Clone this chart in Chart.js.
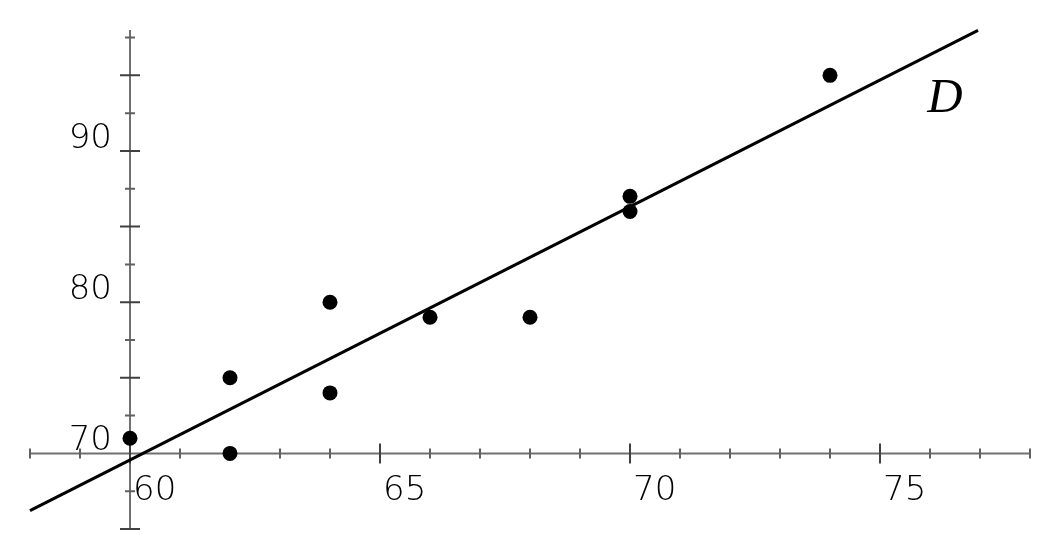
<!DOCTYPE html>
<html>
<head>
<meta charset="utf-8">
<script src="https://cdn.jsdelivr.net/npm/chart.js@4.4.1/dist/chart.umd.min.js"></script>
<style>
  html, body { margin: 0; padding: 0; background: #fff; }
  #wrap { width: 1060px; height: 560px; }
</style>
</head>
<body>
<div id="wrap"><canvas id="c" width="1060" height="560"></canvas></div>
<script>
// ---- data ----
const pointsX = [60, 62, 62, 64, 64, 66, 68, 70, 70, 74];
const pointsY = [71, 75, 70, 80, 74, 79, 79, 87, 86, 95];
const lineX = [58, 76.96];
const lineY = [66.22, 97.97];
const lineName = 'D';
const xLabelTicks = [60, 65, 70, 75];
const xMajorTicks = [60, 65, 70, 75];
const xMinorTicks = [58, 59, 61, 62, 63, 64, 66, 67, 68, 69, 71, 72, 73, 74, 76, 77, 78];
const yLabelTicks = [70, 80, 90];
const yMajorTicks = [65, 75, 80, 85, 90, 95];
const yMinorTicks = [67.5, 72.5, 77.5, 82.5, 87.5, 92.5, 97.5];
const xRange = [58, 78];
const yRange = [65, 98];
const xAxisAt = 70;   // x axis drawn at y = 70
const yAxisAt = 60;   // y axis drawn at x = 60
const lineLabelAt = [76.3, 92.57];

const labelFont = '300 34px "DejaVu Sans", sans-serif';

const axesPlugin = {
  id: 'customAxes',
  beforeDatasetsDraw(chart) {
    const ctx = chart.ctx;
    const xs = chart.scales.x, ys = chart.scales.y;
    const ax = ys.getPixelForValue(xAxisAt);
    const ay = xs.getPixelForValue(yAxisAt);
    ctx.save();
    ctx.strokeStyle = '#707070';
    ctx.lineWidth = 2;
    ctx.beginPath();
    ctx.moveTo(xs.getPixelForValue(xRange[0]), ax);
    ctx.lineTo(xs.getPixelForValue(xRange[1]), ax);
    ctx.moveTo(ay, ys.getPixelForValue(yRange[0]));
    ctx.lineTo(ay, ys.getPixelForValue(yRange[1]));
    ctx.stroke();
    ctx.strokeStyle = '#404040';
    ctx.lineWidth = 2;
    ctx.beginPath();
    xMajorTicks.forEach(v => { const p = xs.getPixelForValue(v); ctx.moveTo(p, ax - 10); ctx.lineTo(p, ax + 10); });
    yMajorTicks.forEach(v => { const p = ys.getPixelForValue(v); ctx.moveTo(ay - 10, p); ctx.lineTo(ay + 10, p); });
    ctx.stroke();
    ctx.strokeStyle = '#606060';
    ctx.beginPath();
    xMinorTicks.forEach(v => { const p = xs.getPixelForValue(v); ctx.moveTo(p, ax - 5); ctx.lineTo(p, ax + 5); });
    yMinorTicks.forEach(v => { const p = ys.getPixelForValue(v); ctx.moveTo(ay - 5, p); ctx.lineTo(ay + 5, p); });
    ctx.stroke();
    ctx.fillStyle = '#000';
    ctx.font = labelFont;
    ctx.textBaseline = 'middle';
    ctx.textAlign = 'left';
    xLabelTicks.forEach(v => { const p = xs.getPixelForValue(v); ctx.fillText(String(v), p + 3, ax + 38); });
    ctx.textAlign = 'right';
    yLabelTicks.forEach(v => { const p = ys.getPixelForValue(v); ctx.fillText(String(v), ay - 18, p - 12); });
    ctx.restore();
  },
  afterDatasetsDraw(chart) {
    const ctx = chart.ctx;
    const xs = chart.scales.x, ys = chart.scales.y;
    ctx.save();
    ctx.fillStyle = '#000';
    ctx.font = 'italic 49px "Liberation Serif", serif';
    ctx.textAlign = 'center';
    ctx.textBaseline = 'alphabetic';
    ctx.fillText(lineName, xs.getPixelForValue(lineLabelAt[0]), ys.getPixelForValue(lineLabelAt[1]));
    ctx.restore();
  }
};

new Chart(document.getElementById('c'), {
  type: 'scatter',
  data: {
    datasets: [
      {
        type: 'line',
        label: lineName,
        data: lineX.map((x, i) => ({ x, y: lineY[i] })),
        borderColor: '#000',
        borderWidth: 3,
        pointRadius: 0,
        fill: false,
        clip: false
      },
      {
        label: 'points',
        data: pointsX.map((x, i) => ({ x, y: pointsY[i] })),
        backgroundColor: '#000',
        borderColor: '#000',
        pointRadius: 7.5,
        borderWidth: 0,
        clip: false
      }
    ]
  },
  options: {
    responsive: false,
    animation: false,
    layout: { padding: { left: 30, right: 30, top: 30, bottom: 31 } },
    plugins: { legend: { display: false }, tooltip: { enabled: false } },
    scales: {
      x: { type: 'linear', min: xRange[0], max: xRange[1], display: false },
      y: { type: 'linear', min: yRange[0], max: yRange[1], display: false }
    }
  },
  plugins: [axesPlugin]
});
</script>
</body>
</html>
